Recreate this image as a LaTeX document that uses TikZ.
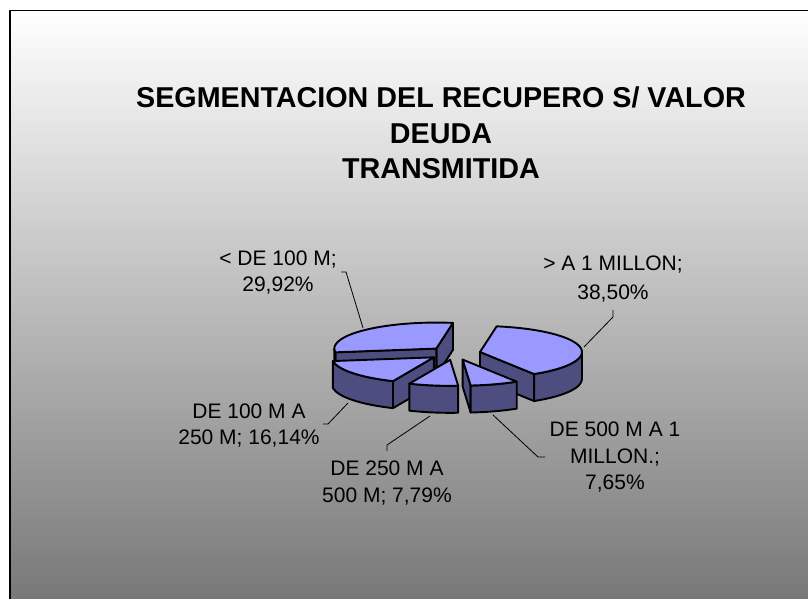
\documentclass[tikz,border=0pt]{standalone}
\usepackage{fontspec}
\setmainfont{Liberation Sans}
\usepackage{xcolor}
\definecolor{dntop}{RGB}{153,153,255}
\definecolor{dnside}{RGB}{77,77,128}
\definecolor{dnnen}{RGB}{120,120,120}
\usetikzlibrary{calc}

\begin{document}
\begin{tikzpicture}[x=1pt,y=1pt,declare function={%
			ra=102;
			rb=26;
			hh=27;
			ex=26;
			}
			]%
			\tikzset{
				topface/.style={fill=dntop,draw=black,line width=1.9pt,line join=round},
				sideface/.style={fill=dnside,draw=black,line width=1.9pt,line join=round},
				leader/.style={draw=black,line width=0.8pt},
				labelfont/.style={font=\fontsize{21}{26.5}\selectfont,align=center,anchor=base,inner sep=0pt},
				titlefont/.style={font=\bfseries\fontsize{28.7}{35.5}\selectfont,align=center,anchor=base,inner sep=0pt}
			}
		\useasboundingbox (0,0) rectangle (808,599);
		\clip (0,0) rectangle (808,599);
		%%%nen
		\fill[white] (0,0) rectangle (808,599);
		\shade[top color=white,bottom color=dnnen] (10,0) rectangle (808,588.5);
		\draw[line width=1.5pt] (10,-20) rectangle (830,588.5);
		%%%tieu de
		\node[titlefont] (title) at (441,420) {SEGMENTACION DEL RECUPERO S/ VALOR\\DEUDA\\TRANSMITIDA};
		%%%tam cac phan
		\coordinate (c0) at (454.5,245.7);
		\foreach \nm/\lo/\hi in {A/80.6/188.3,E/-58/80.6,D/-85.5/-58,C/-113.6/-85.5,B/-171.7/-113.6}{%
			\coordinate (c\nm) at ($(c0)+({(\lo+\hi)/2}:ex and ex*rb/ra)$);
		}
		%%%phan A
		\path[sideface] (cA) -- ($(cA)+(80.6:ra and rb)$) -- ++(0,-hh) -- ($(cA)+(0,-hh)$) -- cycle;
		\path[sideface] (cA) -- ($(cA)+(188.3:ra and rb)$) -- ++(0,-hh) -- ($(cA)+(0,-hh)$) -- cycle;
		\path[sideface] ($(cA)+(180:ra and rb)$) arc[start angle=180,end angle=188.3,x radius=ra,y radius=rb] -- ++(0,-hh) arc[start angle=188.3,end angle=180,x radius=ra,y radius=rb] -- cycle;
		\path[topface] (cA) -- ($(cA)+(80.6:ra and rb)$) arc[start angle=80.6,end angle=188.3,x radius=ra,y radius=rb] -- cycle;
		%%%phan E
		\path[sideface] (cE) -- ($(cE)+(-58:ra and rb)$) -- ++(0,-hh) -- ($(cE)+(0,-hh)$) -- cycle;
		\path[sideface] ($(cE)+(-58:ra and rb)$) arc[start angle=-58,end angle=0,x radius=ra,y radius=rb] -- ++(0,-hh) arc[start angle=0,end angle=-58,x radius=ra,y radius=rb] -- cycle;
		\path[topface] (cE) -- ($(cE)+(-58:ra and rb)$) arc[start angle=-58,end angle=80.6,x radius=ra,y radius=rb] -- cycle;
		%%%phan B
		\path[sideface] (cB) -- ($(cB)+(-113.6:ra and rb)$) -- ++(0,-hh) -- ($(cB)+(0,-hh)$) -- cycle;
		\path[sideface] ($(cB)+(-171.7:ra and rb)$) arc[start angle=-171.7,end angle=-113.6,x radius=ra,y radius=rb] -- ++(0,-hh) arc[start angle=-113.6,end angle=-171.7,x radius=ra,y radius=rb] -- cycle;
		\path[topface] (cB) -- ($(cB)+(-171.7:ra and rb)$) arc[start angle=-171.7,end angle=-113.6,x radius=ra,y radius=rb] -- cycle;
		%%%phan C
		\path[sideface] ($(cC)+(-113.6:ra and rb)$) arc[start angle=-113.6,end angle=-85.5,x radius=ra,y radius=rb] -- ++(0,-hh) arc[start angle=-85.5,end angle=-113.6,x radius=ra,y radius=rb] -- cycle;
		\path[topface] (cC) -- ($(cC)+(-113.6:ra and rb)$) arc[start angle=-113.6,end angle=-85.5,x radius=ra,y radius=rb] -- cycle;
		%%%phan D
		\path[sideface] (cD) -- ($(cD)+(-85.5:ra and rb)$) -- ++(0,-hh) -- ($(cD)+(0,-hh)$) -- cycle;
		\path[sideface] ($(cD)+(-85.5:ra and rb)$) arc[start angle=-85.5,end angle=-58,x radius=ra,y radius=rb] -- ++(0,-hh) arc[start angle=-58,end angle=-85.5,x radius=ra,y radius=rb] -- cycle;
		\path[topface] (cD) -- ($(cD)+(-85.5:ra and rb)$) arc[start angle=-85.5,end angle=-58,x radius=ra,y radius=rb] -- cycle;
		%%%nhan
		\node[labelfont] (lblA) at (278,307) {< DE 100 M;\\29,92\%};
		\node[labelfont,font=\fontsize{21}{29}\selectfont] (lblE) at (613,299) {> A 1 MILLON;\\38,50\%};
		\node[labelfont] (lblB) at (249,154) {DE 100 M A\\250 M; 16,14\%};
		\node[labelfont,font=\fontsize{21}{27}\selectfont] (lblC) at (387,96) {DE 250 M A\\500 M; 7,79\%};
		\node[labelfont] (lblD) at (615,109) {DE 500 M A 1\\MILLON.;\\7,65\%};
		%%%duong dan
		\coordinate (tA1) at (341,327); \coordinate (tA2) at (346,327); \coordinate (eA) at (363,271);
		\coordinate (tE1) at (613,289); \coordinate (tE2) at (613,282); \coordinate (eE) at (584,252);
		\coordinate (tB1) at (323,175); \coordinate (tB2) at (328,175); \coordinate (eB) at (348,196);
		\coordinate (tC1) at (387,148); \coordinate (tC2) at (387,154); \coordinate (eC) at (430,183);
		\coordinate (tD1) at (545,142); \coordinate (tD2) at (538,142); \coordinate (eD) at (493,184);
		\foreach \nm in {A,E,B,C,D}{%
			\draw[leader] (t\nm1) -- (t\nm2) -- (e\nm);
		}
	\end{tikzpicture}
\end{document}
